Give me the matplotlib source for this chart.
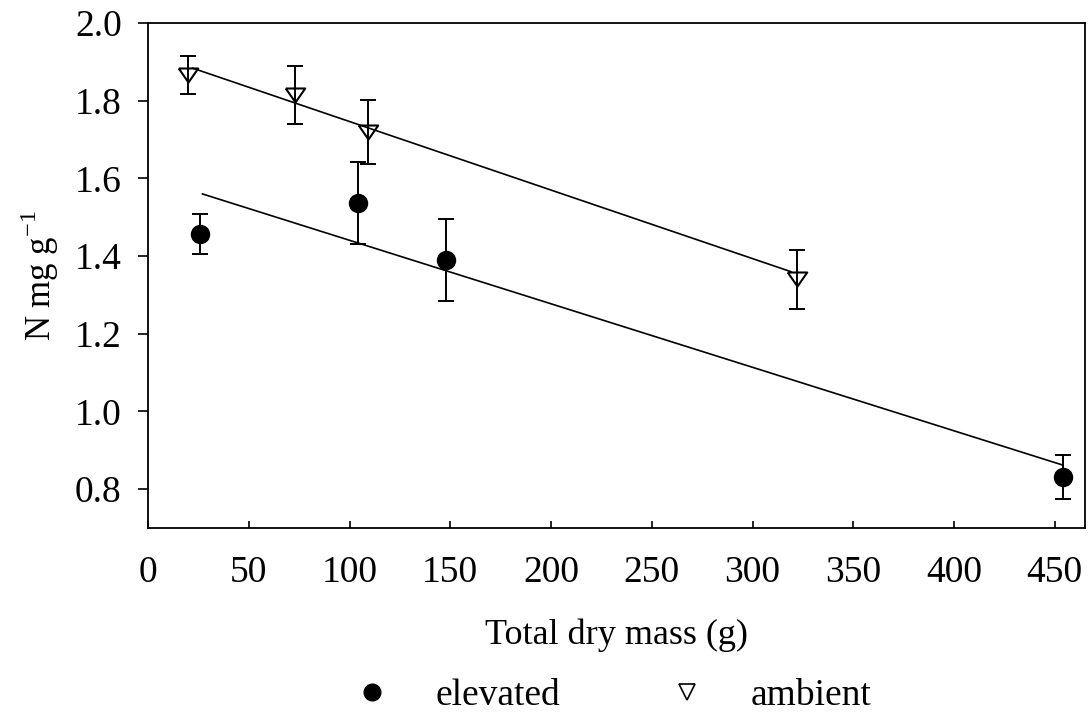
import matplotlib.pyplot as plt
from matplotlib.lines import Line2D

plt.rcParams['font.family'] = ['Liberation Serif', 'DejaVu Serif']

# elevated CO2
elev_x = [26, 104, 148, 454]
elev_y = [1.457, 1.537, 1.390, 0.831]
elev_err = [0.052, 0.105, 0.105, 0.057]
elev_line_x = [27, 454]
elev_line_y = [1.560, 0.862]

# ambient CO2
amb_x = [20, 73, 109, 322]
amb_y = [1.866, 1.815, 1.720, 1.340]
amb_err = [0.050, 0.075, 0.083, 0.075]
amb_line_x = [22, 319]
amb_line_y = [1.884, 1.360]

xticks = [0, 50, 100, 150, 200, 250, 300, 350, 400, 450]
yticks = [0.8, 1.0, 1.2, 1.4, 1.6, 1.8, 2.0]

# wide, flat open triangle like the original
tri = [(-1, 0.72), (1, 0.72), (0, -0.72), (-1, 0.72)]

fig = plt.figure(figsize=(10.91, 7.19), dpi=100)
ax = fig.add_axes([0.1357, 0.2656, 0.8588, 0.7024])

ax.plot(elev_line_x, elev_line_y, 'k-', lw=1.2)
ax.plot(amb_line_x, amb_line_y, 'k-', lw=1.2)

ax.errorbar(elev_x, elev_y, yerr=elev_err, fmt='o', color='k', ms=13,
            capsize=5.6, elinewidth=1.4, capthick=1.4)
ax.errorbar(amb_x, amb_y, yerr=amb_err, fmt='none', ecolor='k',
            capsize=5.6, elinewidth=1.4, capthick=1.4)
ax.plot(amb_x, amb_y, ls='none', marker=tri, mfc='none', mec='k',
        mew=1.5, ms=14)

ax.set_xlim(0, 465)
ax.set_ylim(0.7, 2.0)
ax.set_xticks(xticks)
ax.set_yticks(yticks)
ax.set_yticklabels(['%.1f' % v for v in yticks])
ax.tick_params(axis='x', direction='in', length=5, width=1.2,
               labelsize=27, pad=20)
ax.tick_params(axis='y', direction='out', length=7, width=1.2,
               labelsize=27, pad=12)
for s in ax.spines.values():
    s.set_linewidth(1.3)

ax.set_xlabel('Total dry mass (g)', fontsize=26, labelpad=20)
ax.set_ylabel('N mg g$^{\\mathregular{-1}}$', fontsize=25, labelpad=10)

handles = [
    Line2D([], [], marker='o', color='k', ls='none', ms=12),
    Line2D([], [], marker='v', color='k', mfc='white', ls='none', ms=12,
           mew=1.2),
]
fig.legend(handles, ['elevated', 'ambient'], loc='center left', ncol=2,
           bbox_to_anchor=(0.3238, 0.032), frameon=False, fontsize=27,
           borderpad=0, borderaxespad=0, handlelength=1.0,
           handletextpad=1.18, columnspacing=2.9)

fig.savefig('out.png', dpi=100)
